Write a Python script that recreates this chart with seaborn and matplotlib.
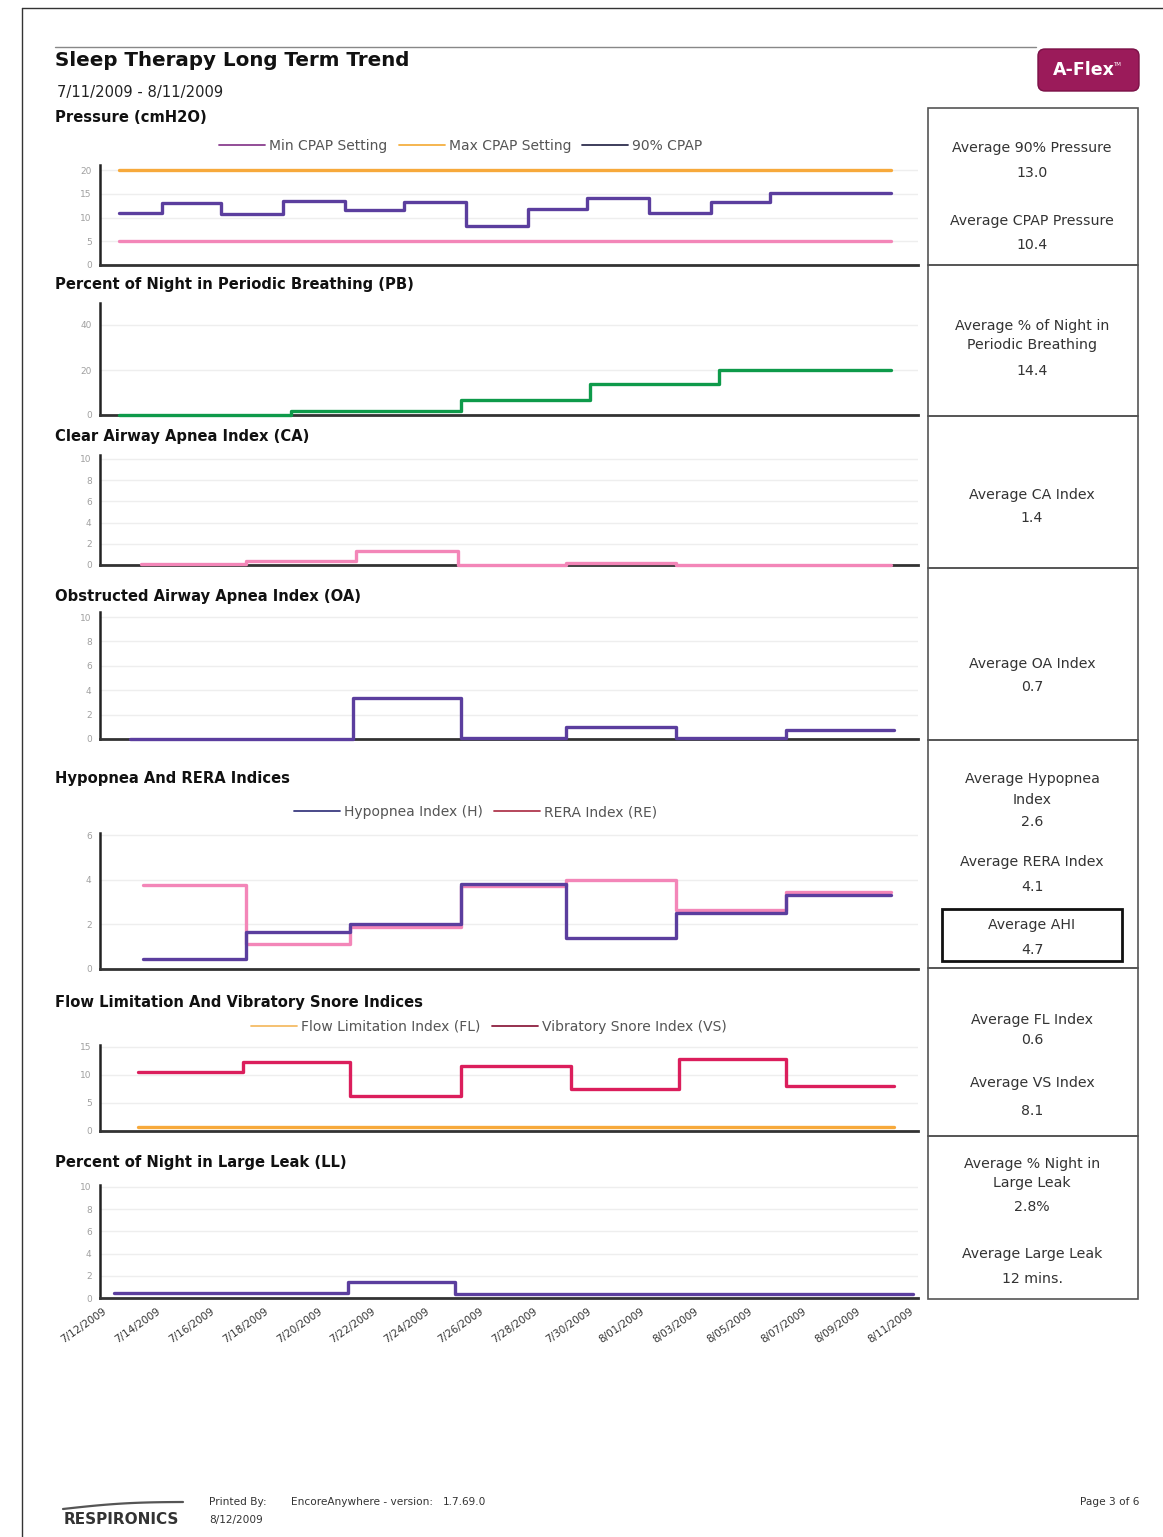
import numpy as np
import matplotlib
matplotlib.use("Agg")
import matplotlib.pyplot as plt
from matplotlib.lines import Line2D
from matplotlib.patches import Rectangle, FancyBboxPatch
import seaborn as sns

# x values are days after 7/12/2009 (step edges), y values per step
date_labels = ['7/12/2009', '7/14/2009', '7/16/2009', '7/18/2009', '7/20/2009',
               '7/22/2009', '7/24/2009', '7/26/2009', '7/28/2009', '7/30/2009',
               '8/01/2009', '8/03/2009', '8/05/2009', '8/07/2009', '8/09/2009',
               '8/11/2009']
date_days = list(range(0, 31, 2))

press_edges = [0.6, 2.2, 4.4, 6.7, 9.0, 11.2, 13.5, 15.8, 18.0, 20.3, 22.6, 24.8, 29.3]
cpap90 = [11.0, 13.1, 10.8, 13.5, 11.5, 13.3, 8.3, 11.7, 14.2, 11.0, 13.3, 15.2]
min_cpap = 5
max_cpap = 20

pb_edges = [0.6, 7.0, 13.3, 18.1, 22.9, 29.3]
pb_vals = [0.2, 1.8, 6.7, 13.8, 20.0]

ca_edges = [1.4, 5.3, 9.4, 13.2, 17.2, 21.3, 29.3]
ca_vals = [0.05, 0.4, 1.3, 0.0, 0.2, 0.0]

oa_edges = [1.0, 9.3, 13.3, 17.2, 21.3, 25.4, 29.4]
oa_vals = [0.0, 3.4, 0.1, 1.0, 0.05, 0.7]

hr_edges = [1.5, 5.3, 9.2, 13.3, 17.2, 21.3, 25.4, 29.3]
hyp_vals = [0.45, 1.65, 2.0, 3.8, 1.4, 2.5, 3.3]
rera_vals = [3.75, 1.1, 1.9, 3.7, 4.0, 2.65, 3.45]

fv_edges = [1.3, 5.2, 9.2, 13.3, 17.4, 21.4, 25.4, 29.4]
vs_vals = [10.5, 12.3, 6.25, 11.6, 7.5, 12.9, 8.0]
fl_val = 0.7

ll_edges = [0.4, 9.1, 13.1, 30.1]
ll_vals = [0.45, 1.45, 0.4]

purple = '#5B3E9E'
pink = '#F386B8'
orange = '#F7A93B'
green = '#0E9A4A'
crimson = '#DB1E5C'

sns.set_style("white")
plt.rcParams['font.family'] = ['DejaVu Sans']

W, H = 1163, 1537
fig = plt.figure(figsize=(W / 100, H / 100), dpi=100)

# background layer in pixel coordinates
bg = fig.add_axes([0, 0, 1, 1], zorder=0)
bg.set_xlim(0, W)
bg.set_ylim(H, 0)
bg.axis('off')


def make_ax(bottom, scale, top_val):
    top = bottom - top_val * scale
    ax = fig.add_axes([100 / W, 1 - bottom / H, 818 / W, (bottom - top) / H], zorder=2)
    ax.set_facecolor('none')
    ax.set_xlim(-0.11, 30.3)
    ax.set_ylim(0, top_val)
    return ax


def style(ax, major, minor, top_val):
    ax.set_yticks(np.arange(0, top_val + 0.01, major))
    ax.set_yticks(np.arange(0, top_val + 0.01, minor), minor=True)
    ax.tick_params(axis='y', which='both', direction='out', length=4, width=1,
                   color='#222', labelcolor='#a0a0a0', labelsize=6.5, pad=2)
    ax.tick_params(axis='y', which='minor', length=3)
    ax.grid(axis='y', color='#eeeeee', lw=1)
    ax.spines['top'].set_visible(False)
    ax.spines['right'].set_visible(False)
    ax.spines['left'].set_linewidth(1.8)
    ax.spines['left'].set_color('#222')
    ax.spines['bottom'].set_linewidth(2)
    ax.spines['bottom'].set_color('#333')
    ax.set_xticks([15.2])
    ax.set_xticklabels([])
    ax.tick_params(axis='x', length=5, width=1.2, color='#222')
    ax.set(xlabel='', ylabel='')


def steps(ax, edges, vals, color):
    yy = list(vals) + [vals[-1]]
    sns.lineplot(x=edges, y=yy, ax=ax, color=color, lw=2.4, errorbar=None,
                 drawstyle='steps-post', clip_on=False, zorder=3)


# ---- Pressure
ax1 = make_ax(265, 4.75, 21)
sns.lineplot(x=[press_edges[0], press_edges[-1]], y=[max_cpap, max_cpap], ax=ax1, color=orange, lw=2.4, errorbar=None)
sns.lineplot(x=[press_edges[0], press_edges[-1]], y=[min_cpap, min_cpap], ax=ax1, color=pink, lw=2.4, errorbar=None)
steps(ax1, press_edges, cpap90, purple)
style(ax1, 5, 2.5, 21)

# ---- Periodic breathing
ax2 = make_ax(415, 2.25, 50)
steps(ax2, pb_edges, pb_vals, green)
style(ax2, 20, 10, 50)

# ---- CA
ax3 = make_ax(565, 10.6, 10.4)
steps(ax3, ca_edges, ca_vals, pink)
style(ax3, 2, 1, 10.4)

# ---- OA
ax4 = make_ax(739, 12.2, 10.4)
steps(ax4, oa_edges, oa_vals, purple)
style(ax4, 2, 1, 10.4)

# ---- Hypopnea / RERA
ax5 = make_ax(969, 22.3, 6.1)
steps(ax5, hr_edges, rera_vals, pink)
steps(ax5, hr_edges, hyp_vals, purple)
style(ax5, 2, 1, 6.1)

# ---- Flow limitation / snore
ax6 = make_ax(1131, 5.6, 15.4)
sns.lineplot(x=[fv_edges[0], fv_edges[-1]], y=[fl_val, fl_val], ax=ax6, color=orange, lw=2.4, errorbar=None)
steps(ax6, fv_edges, vs_vals, crimson)
style(ax6, 5, 2.5, 15.4)

# ---- Large leak
ax7 = make_ax(1298, 11.1, 10.2)
steps(ax7, ll_edges, ll_vals, purple)
style(ax7, 2, 1, 10.2)
ax7.set_xticks(date_days)
ax7.set_xticklabels(date_labels, rotation=35, ha='right', rotation_mode='anchor',
                    fontsize=7.5, color='#333')
ax7.tick_params(axis='x', length=0, pad=6)
ax7.set_xticks([15.2], minor=True)
ax7.tick_params(axis='x', which='minor', length=5, width=1.2, color='#222')


# ---- legends
def legend_at(items, cx, cy):
    handles = [Line2D([], [], color=c, lw=1.3) for _, c in items]
    fig.legend(handles, [t for t, _ in items], loc='center', ncol=len(items),
               bbox_to_anchor=(cx / W, 1 - cy / H), frameon=False, fontsize=10,
               labelcolor='#555', handlelength=3.3, handletextpad=0.3,
               columnspacing=0.8)


legend_at([('Min CPAP Setting', '#8A3F8F'), ('Max CPAP Setting', '#F5B041'),
           ('90% CPAP', '#2E2E4E')], 461, 146)
legend_at([('Hypopnea Index (H)', '#3B3B80'), ('RERA Index (RE)', '#B0384E')], 476, 812)
legend_at([('Flow Limitation Index (FL)', '#F5BC66'),
           ('Vibratory Snore Index (VS)', '#8E2040')], 489, 1027)

# ---- page frame and header
bg.plot([22, 22], [8, H], color='#333', lw=1)
bg.plot([22, W], [8, 8], color='#333', lw=1)
bg.plot([55, 1036], [47, 47], color='#888', lw=1)
bg.text(55, 60, 'Sleep Therapy Long Term Trend', fontsize=14.3, fontweight='bold',
        va='center', color='#111')
bg.text(57, 92, '7/11/2009 - 8/11/2009', fontsize=10.6, va='center', color='#222')
bg.add_patch(FancyBboxPatch((1038, 49), 101, 42, boxstyle='round,pad=0,rounding_size=7',
                            fc='#9B1B5A', ec='#7a1046', lw=1))
bg.text(1084, 70, 'A-Flex', fontsize=12.5, fontweight='bold', color='white',
        ha='center', va='center')
bg.text(1113, 64, 'TM', fontsize=4, color='white', ha='left', va='center')

titles = [(118, 'Pressure (cmH2O)'),
          (285, 'Percent of Night in Periodic Breathing (PB)'),
          (437, 'Clear Airway Apnea Index (CA)'),
          (597, 'Obstructed Airway Apnea Index (OA)'),
          (778, 'Hypopnea And RERA Indices'),
          (1002, 'Flow Limitation And Vibratory Snore Indices'),
          (1162, 'Percent of Night in Large Leak (LL)')]
for y, t in titles:
    bg.text(55, y, t, fontsize=10.6, fontweight='bold', va='center', color='#111')

# ---- summary boxes on the right
box_edges = [108, 265, 416, 568, 740, 968, 1136, 1299]
for y0, y1 in zip(box_edges[:-1], box_edges[1:]):
    bg.add_patch(Rectangle((928, y0), 210, y1 - y0, fill=False, ec='#555', lw=1.2))

box_texts = [(148, 'Average 90% Pressure'), (173, '13.0'),
             (221, 'Average CPAP Pressure'), (245, '10.4'),
             (326, 'Average % of Night in'), (345, 'Periodic Breathing'), (371, '14.4'),
             (495, 'Average CA Index'), (518, '1.4'),
             (664, 'Average OA Index'), (687, '0.7'),
             (779, 'Average Hypopnea'), (800, 'Index'), (822, '2.6'),
             (862, 'Average RERA Index'), (887, '4.1'),
             (925, 'Average AHI'), (950, '4.7'),
             (1020, 'Average FL Index'), (1040, '0.6'),
             (1083, 'Average VS Index'), (1111, '8.1'),
             (1164, 'Average % Night in'), (1183, 'Large Leak'), (1207, '2.8%'),
             (1254, 'Average Large Leak'), (1279, '12 mins.')]
for y, t in box_texts:
    bg.text(1032, y, t, fontsize=10.2, ha='center', va='center', color='#333')
bg.add_patch(Rectangle((942, 909), 180, 52, fill=False, ec='#111', lw=2))

# ---- footer
sx = np.linspace(63, 183, 60)
bg.plot(sx, 1509 - 7 * (sx - 63) / 120 - 2 * np.sin(np.pi * (sx - 63) / 120),
        color='#555', lw=1.6)
bg.text(64, 1520, 'RESPIRONICS', fontsize=11, fontweight='bold', color='#333', va='center')
bg.text(209, 1502, 'Printed By:', fontsize=7.6, color='#333', va='center')
bg.text(209, 1520, '8/12/2009', fontsize=7.6, color='#333', va='center')
bg.text(291, 1502, 'EncoreAnywhere - version:', fontsize=7.6, color='#333', va='center')
bg.text(443, 1502, '1.7.69.0', fontsize=7.6, color='#333', va='center')
bg.text(1139, 1502, 'Page 3 of 6', fontsize=7.6, color='#333', va='center', ha='right')

fig.savefig('out.png', dpi=100)
